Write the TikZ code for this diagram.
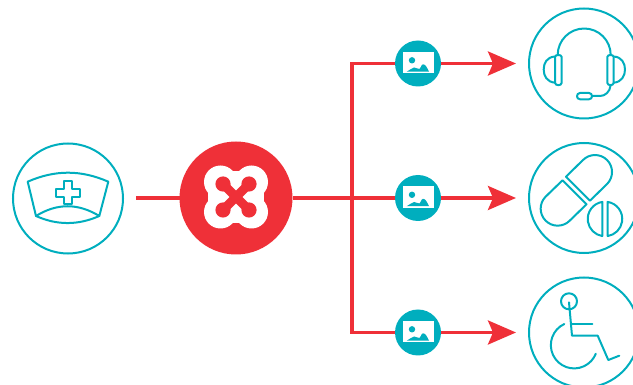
\documentclass[tikz,border=0pt]{standalone}
\usetikzlibrary{arrows.meta}
\definecolor{teal1}{HTML}{00AEBE}
\definecolor{red1}{HTML}{EF3038}
\tikzset{
  x=1pt,y=-1pt,
  ring/.style={circle,draw=teal1,line width=2pt,minimum size=110pt,inner sep=0pt,outer sep=1pt},
  hub/.style={circle,fill=red1,minimum size=113pt,inner sep=0pt,outer sep=0pt},
  imgdot/.style={circle,fill=teal1,minimum size=46pt,inner sep=0pt,outer sep=0pt},
  conn/.style={draw=red1,line width=3.4pt},
  arrowconn/.style={conn,shorten >=12pt,-{Stealth[length=28pt,width=24pt,inset=5pt,fill=red1]}},
  glyph/.style={draw=teal1,line width=2pt,line join=round,line cap=round},
  imgicon/.pic={
    \fill[white] (-15.5,-11.5) rectangle (15.5,10);
    \fill[teal1] (-6,-3.2) circle[radius=3.2];
    \fill[teal1] (-11.3,8.2) .. controls (-8,7.5) and (-7,4) .. (-4,4)
       .. controls (-1,4) and (0,6) .. (1.5,5.5)
       .. controls (3,5) and (3,1) .. (5,0.8)
       .. controls (7.5,0.8) and (9,4) .. (11,8.2) -- cycle;
  }
}
\begin{document}
\begin{tikzpicture}
\useasboundingbox (0,0) rectangle (633,385);
\clip (0,0) rectangle (633,385);
% main nodes
\node[ring] (nurse) at (68,198.5) {};
\node[hub] (hub) at (236,198) {};
\node[imgdot] (i1) at (418,63.5) {};
\node[imgdot] (i2) at (418,198) {};
\node[imgdot] (i3) at (418,332.5) {};
\node[ring] (t1) at (584,63.5) {};
\node[ring] (t2) at (584,198) {};
\node[ring] (t3) at (584,332.5) {};
\coordinate (start) at (136,198);
\coordinate (junction) at (352,198);
% connectors
\draw[conn] (start) -- (hub.west);
\draw[conn] (hub.east) -- (i2.west);
\draw[conn] (junction) |- (i1.west);
\draw[conn] (junction) |- (i3.west);
\draw[arrowconn] (i1.east) -- (t1.west);
\draw[arrowconn] (i2.east) -- (t2.west);
\draw[arrowconn] (i3.east) -- (t3.west);
% image icons
\pic at (i1) {imgicon};
\pic at (i2) {imgicon};
\pic at (i3) {imgicon};
% hub logo
\begin{scope}[shift={(236,197)}]
  \fill[white] (-15,-26) rectangle (15,26);
  \fill[white] (-28,-15) rectangle (28,15);
  \foreach \a/\b in {-15.5/-15,15.5/-15,-15.5/15,15.5/15} \fill[white] (\a,\b) circle[radius=16.5];
  \fill[red1] (0,-30) circle[radius=4];
  \fill[red1] (0,30) circle[radius=4];
  \fill[red1] (-32,0) circle[radius=4];
  \fill[red1] (32,0) circle[radius=4];
  \foreach \a/\b in {-13/-13,13/-13,-13/13,13/13} \fill[red1] (\a,\b) circle[radius=7.6];
  \draw[red1,line width=9pt] (-13,-13) -- (13,13);
  \draw[red1,line width=9pt] (13,-13) -- (-13,13);
\end{scope}
% nurse cap
\draw[glyph] (27.7,181.7) .. controls (55,169.7) and (81,169.7) .. (108.3,181.7) -- (99.3,216)
   .. controls (78,203) and (57,203) .. (36,216) -- cycle;
\draw[glyph] (36,216) .. controls (57,225.4) and (78,225.4) .. (99.3,216);
\draw[glyph,line cap=butt] (64,181) -- (72,181) -- (72,188.7) -- (79.7,188.7) -- (79.7,196.7) -- (72,196.7) -- (72,204.4) -- (64,204.4) -- (64,196.7) -- (56.3,196.7) -- (56.3,188.7) -- (64,188.7) -- cycle;
% headset
\draw[glyph] (557.7,55) arc[start angle=180,end angle=360,radius=26.5];
\draw[glyph] (555,57) .. controls (555,54.3) and (561.7,54.3) .. (561.7,57) -- (561.7,82.7) .. controls (561.7,86) and (555,86) .. (555,82.7) -- cycle;
\draw[glyph] (607.3,57) .. controls (607.3,54.3) and (613.7,54.3) .. (613.7,57) -- (613.7,82.7) .. controls (613.7,86) and (607.3,86) .. (607.3,82.7) -- cycle;
\draw[glyph] (555,56.5) .. controls (547,57) and (543.7,63) .. (543.7,69.5) .. controls (543.7,76) and (547,82) .. (555,82.7);
\draw[glyph] (613.7,56.5) .. controls (621.7,57) and (625,63) .. (625,69.5) .. controls (625,76) and (621.7,82) .. (613.7,82.7);
\draw[glyph] (610.7,85) .. controls (610,92) and (605,96) .. (600,96) -- (592,96);
\draw[glyph] (580,93) -- (589,93) .. controls (593,93) and (593,99.3) .. (589,99.3) -- (580,99.3) .. controls (576,99.3) and (576,93) .. (580,93) -- cycle;
% pills
\draw[glyph] (566,176.67) -- (583,160) arc[start angle=225,end angle=405,radius=17] -- (590,200.67) -- cycle;
\draw[glyph] (562.5,180.33) -- (545.65,196.65) arc[start angle=225,end angle=45,radius=17] -- (586.5,204.33) -- cycle;
\draw[glyph] (607.67,201.9) arc[start angle=-81,end angle=81,radius=17.3] -- cycle;
\draw[glyph] (602.33,201.9) arc[start angle=261,end angle=99,radius=17.3] -- cycle;
% wheelchair
\draw[glyph] (569,301.3) circle[radius=8];
\draw[glyph] (569,302.3) -- (572,335.7) -- (597.7,335.7) -- (608.3,360) -- (619.3,355.7);
\draw[glyph] (571,324.3) -- (592.3,324.3);
\draw[glyph] (564.3,324) arc[start angle=245,end angle=21.6,radius=23.3];
\end{tikzpicture}
\end{document}
